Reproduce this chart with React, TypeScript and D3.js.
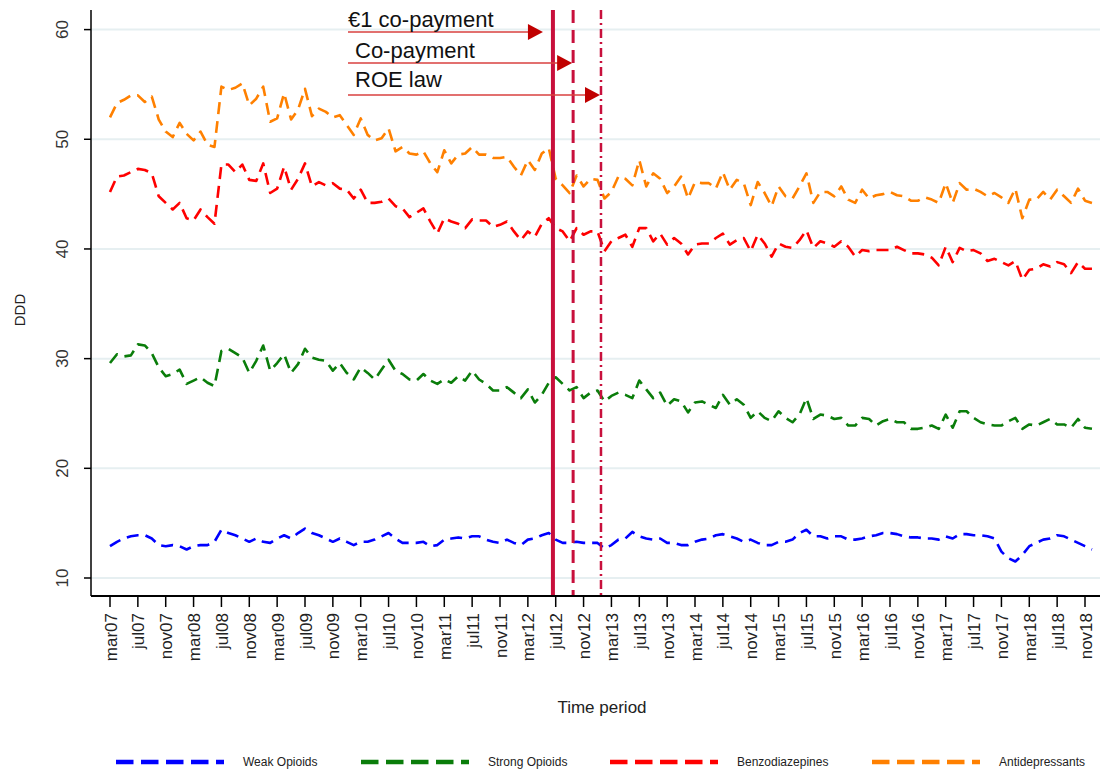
import React from "react";
import * as d3 from "d3";

const tickLabels = [
  "mar07","jul07","nov07","mar08","jul08","nov08","mar09","jul09","nov09",
  "mar10","jul10","nov10","mar11","jul11","nov11","mar12","jul12","nov12",
  "mar13","jul13","nov13","mar14","jul14","nov14","mar15","jul15","nov15",
  "mar16","jul16","nov16","mar17","jul17","nov17","mar18","jul18","nov18",
];

const antidepressants = [
  52.0,53.3,53.6,54.0,54.0,53.4,53.9,51.8,50.7,50.2,51.5,50.5,49.9,50.7,49.5,49.3,
  54.8,54.5,54.7,55.1,53.1,53.7,54.8,51.6,51.9,54.2,51.8,52.7,54.6,52.1,52.8,52.5,52.0,52.2,
  51.3,50.4,51.9,50.4,49.9,50.1,51.0,48.9,49.3,48.7,48.6,48.9,47.8,47.0,49.0,47.8,48.6,48.7,
  49.3,48.6,48.6,48.3,48.3,48.4,47.5,46.7,48.1,47.2,48.7,49.2,46.4,45.8,45.1,46.7,45.7,46.4,
  46.3,44.6,45.2,46.6,46.4,45.8,48.1,45.7,46.9,46.4,45.1,45.7,46.6,44.6,46.1,46.0,46.0,45.5,
  47.0,45.4,46.3,46.0,44.0,46.1,45.1,43.9,45.7,44.8,44.6,45.7,46.9,44.2,45.2,45.2,44.8,45.7,
  44.5,44.2,45.4,44.6,44.9,45.0,45.2,44.9,44.8,44.4,44.4,44.7,44.5,44.2,46.0,44.2,46.0,45.4,
  45.5,45.2,44.8,45.1,44.7,44.2,45.5,42.8,44.5,44.5,45.2,44.5,45.4,44.8,44.2,45.5,44.4,44.2,
];

const benzodiazepines = [
  45.2,46.6,46.7,47.0,47.3,47.2,46.9,44.8,44.2,43.6,44.2,42.8,42.6,43.6,42.9,42.3,
  47.7,47.7,47.0,47.7,46.3,46.2,47.8,45.1,45.5,47.5,45.4,46.4,47.8,45.7,46.1,45.8,46.0,45.5,
  45.4,44.6,45.4,44.2,44.2,44.3,44.6,43.9,43.7,42.9,43.3,43.7,42.5,41.4,42.8,42.5,42.3,41.9,
  42.7,42.6,42.6,42.0,42.2,42.5,41.6,40.8,41.6,41.1,42.3,42.8,41.9,41.6,40.7,41.9,41.3,41.6,
  41.6,39.8,40.7,41.0,41.3,40.2,41.9,41.9,40.7,41.4,40.4,41.0,40.5,39.5,40.4,40.5,40.5,41.0,
  41.4,40.4,40.8,41.0,39.8,41.3,40.5,39.3,40.5,40.2,40.1,40.8,41.7,40.1,40.7,40.5,40.2,40.7,
  40.2,39.3,39.9,39.8,39.9,39.9,39.9,40.2,39.9,39.6,39.6,39.5,39.2,38.5,40.2,38.8,40.1,39.8,
  39.9,39.6,38.9,39.1,38.8,38.5,38.9,37.2,38.1,38.2,38.6,38.4,38.8,38.6,37.8,38.8,38.2,38.2,
];

const strongOpioids = [
  29.6,30.4,30.2,30.3,31.3,31.2,30.5,29.2,28.4,28.6,29.0,27.7,28.0,28.3,27.8,27.5,
  30.7,30.9,30.5,30.1,28.7,29.8,31.2,28.9,29.6,30.4,28.7,29.5,30.9,30.1,29.9,29.8,28.9,29.6,
  28.7,28.1,29.2,28.7,28.1,29.0,29.9,28.9,28.6,28.1,28.0,28.6,28.0,27.7,28.1,27.8,28.4,28.0,
  28.9,28.1,27.7,27.1,27.1,27.4,26.9,26.4,27.2,26.0,26.7,27.8,28.3,27.7,27.1,27.4,26.4,26.9,
  27.1,26.1,26.6,26.9,26.7,26.4,28.0,27.2,26.4,26.9,25.7,26.3,26.1,25.1,26.0,26.1,25.8,25.5,
  26.7,25.8,26.3,25.8,24.6,25.2,24.6,24.3,25.2,24.6,24.2,24.9,26.4,24.5,24.9,24.8,24.5,24.6,
  23.9,23.9,24.6,24.5,23.9,24.3,24.5,24.2,24.2,23.6,23.6,23.7,23.9,23.6,24.9,23.7,25.2,25.2,
  24.6,24.2,24.0,23.9,23.9,24.3,24.6,23.6,24.0,23.9,24.2,24.5,24.0,24.0,23.7,24.5,23.7,23.6,
];

const weakOpioids = [
  12.9,13.3,13.6,13.8,13.9,13.9,13.6,13.0,12.9,13.0,12.9,12.6,12.9,13.0,13.0,13.3,
  14.4,14.1,13.9,13.6,13.3,13.6,13.3,13.2,13.6,13.9,13.6,14.1,14.5,14.1,13.9,13.6,13.3,13.6,
  13.3,13.0,13.3,13.3,13.5,13.8,14.1,13.6,13.2,13.2,13.2,13.3,12.9,13.0,13.5,13.6,13.7,13.6,
  13.8,13.8,13.5,13.3,13.2,13.5,13.2,13.0,13.5,13.6,13.9,14.1,13.5,13.2,13.2,13.3,13.2,13.2,
  13.2,12.7,13.0,13.5,13.6,14.2,13.8,13.6,13.5,13.6,13.2,13.2,13.0,13.0,13.3,13.5,13.6,13.9,
  14.0,13.8,13.6,13.3,13.5,13.2,13.0,13.0,13.3,13.3,13.5,14.1,14.4,13.8,13.8,13.6,13.8,13.8,
  13.5,13.5,13.6,13.8,13.9,14.1,14.1,14.0,13.8,13.7,13.7,13.6,13.6,13.5,13.8,13.6,14.0,14.0,
  13.9,13.9,13.8,13.6,12.4,11.8,11.5,12.1,12.9,13.2,13.5,13.6,13.9,13.8,13.5,13.2,12.9,12.6,
];

const seriesNames = ["Weak Opioids", "Strong Opioids", "Benzodiazepines", "Antidepressants"];
const seriesColors = ["#0000ff", "#0a7d0a", "#ff0000", "#ff8000"];
const seriesData = [weakOpioids, strongOpioids, benzodiazepines, antidepressants];

const yTicks = [10, 20, 30, 40, 50, 60];

// policy events (month index from mar07)
const eventLabels = ["€1 co-payment", "Co-payment", "ROE law"];
const eventMonths = [63.6, 66.5, 70.5];

export default function App() {
  const left = 91, bottom = 596, top = 10, right = 1100;
  const x = d3.scaleLinear().domain([0, 140]).range([110, 1085]);
  const y = d3.scaleLinear().domain([10, 60]).range([578, 29.6]);
  const line = d3.line<number>().x((_, i) => x(i)).y((d) => y(d));
  const font = "'Liberation Sans', Arial, sans-serif";
  const evColor = "#c8103c";
  const evStyles = [
    { w: 4, dash: undefined },
    { w: 3, dash: "13 7" },
    { w: 2.5, dash: "9 4 2 4" },
  ];
  const arrowY = [32, 63, 95];
  const textY = [27, 58, 87];
  const textX = [348, 355, 355];
  const tipOffset = [10, 1, 1];
  const legendLineX = [116, 361, 610, 872];

  return (
    <svg width={1100} height={769} style={{ position: "absolute", left: 0, top: 0, background: "#fff" }} fontFamily={font}>
      {yTicks.map((t) => (
        <line key={"g" + t} x1={left} x2={right} y1={y(t)} y2={y(t)} stroke="#e6eff1" strokeWidth={2} />
      ))}
      {seriesData.map((s, k) => (
        <path key={"s" + k} d={line(s) || ""} fill="none" stroke={seriesColors[k]} strokeWidth={2.6}
          strokeDasharray="12 7" strokeLinejoin="round" />
      ))}
      {eventMonths.map((m, k) => (
        <line key={"e" + k} x1={x(m)} x2={x(m)} y1={top} y2={bottom} stroke={evColor}
          strokeWidth={evStyles[k].w} strokeDasharray={evStyles[k].dash} />
      ))}
      {eventMonths.map((m, k) => {
        const tip = x(m) - tipOffset[k];
        const ay = arrowY[k];
        return (
          <g key={"a" + k}>
            <line x1={348} x2={tip - 12} y1={ay} y2={ay} stroke="#d9403f" strokeWidth={1.6} />
            <path d={`M${tip},${ay} L${tip - 15},${ay - 8} L${tip - 15},${ay + 8} Z`} fill="#c00000" />
            <text x={textX[k]} y={textY[k]} fontSize={22} fill="#111">{eventLabels[k]}</text>
          </g>
        );
      })}
      <line x1={left} x2={left} y1={top} y2={bottom} stroke="#000" strokeWidth={1.5} />
      {yTicks.map((t) => (
        <g key={"yt" + t}>
          <line x1={left - 7} x2={left} y1={y(t)} y2={y(t)} stroke="#000" strokeWidth={1.5} />
          <text transform={`translate(${68},${y(t)}) rotate(-90)`} textAnchor="middle" fontSize={17} fill="#333">{t}</text>
        </g>
      ))}
      <text transform={`translate(${25},${310}) rotate(-90)`} textAnchor="middle" fontSize={15} fill="#222">DDD</text>
      <line x1={left} x2={right} y1={bottom} y2={bottom} stroke="#000" strokeWidth={1.8} />
      {tickLabels.map((lab, i) => (
        <g key={"xt" + i}>
          <line x1={x(i * 4)} x2={x(i * 4)} y1={bottom} y2={bottom + 11} stroke="#000" strokeWidth={1.5} />
          <text transform={`translate(${x(i * 4) + 6.5},${bottom + 17}) rotate(-90)`} textAnchor="end" fontSize={17} fill="#222">{lab}</text>
        </g>
      ))}
      <text x={602} y={713} textAnchor="middle" fontSize={17} fill="#222">Time period</text>
      {seriesNames.map((n, k) => (
        <g key={"l" + k}>
          <line x1={legendLineX[k]} x2={legendLineX[k] + 108} y1={762} y2={762} stroke={seriesColors[k]}
            strokeWidth={4.5} strokeDasharray="17.5 7.5" />
          <text x={legendLineX[k] + 127} y={766} fontSize={12} fill="#222">{n}</text>
        </g>
      ))}
    </svg>
  );
}
